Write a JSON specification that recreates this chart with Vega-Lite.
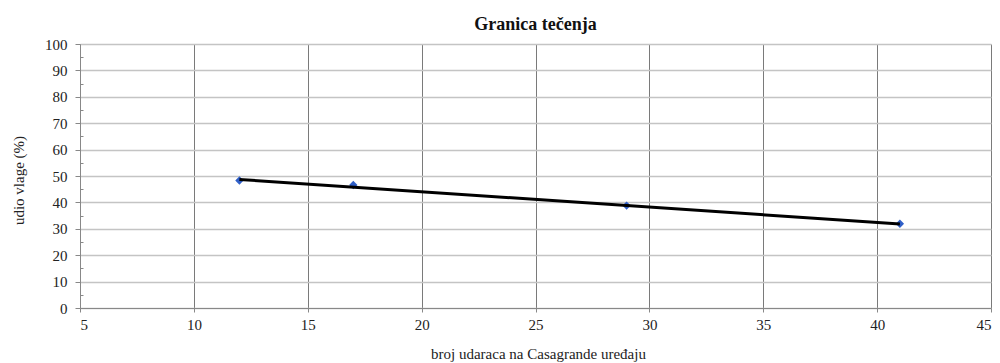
{
  "$schema": "https://vega.github.io/schema/vega-lite/v6.json",
  "width": 911,
  "height": 264,
  "autosize": {"type": "none"},
  "padding": {"left": 80, "top": 44, "right": 9, "bottom": 55},
  "background": "white",
  "config": {
    "font": "Liberation Serif",
    "view": {"stroke": null},
    "style": {
      "guide-label": {"font": "Liberation Serif", "fontSize": 15, "fill": "#222"},
      "guide-title": {"font": "Liberation Serif", "fontSize": 15, "fill": "#222"},
      "group-title": {"font": "Liberation Serif", "fontSize": 18}
    },
    "axis": {"labelFont": "Liberation Serif", "titleFont": "Liberation Serif", "labelFontSize": 15, "titleFontSize": 15, "labelColor": "#222", "titleColor": "#222", "titleFontWeight": "normal", "domainColor": "#888", "tickColor": "#888", "labelOverlap": false}
  },
  "title": {"text": "Granica tečenja", "font": "Liberation Serif", "fontSize": 18, "fontWeight": "bold", "color": "#111", "anchor": "middle", "offset": 3},
  "datasets": {
    "points": [
      {"udarci": 12, "vlaga": 48.3},
      {"udarci": 17, "vlaga": 46.6},
      {"udarci": 29, "vlaga": 38.8},
      {"udarci": 41, "vlaga": 31.9}
    ],
    "trend": [
      {"udarci": 12, "vlaga": 48.7},
      {"udarci": 41, "vlaga": 31.8}
    ]
  },
  "encoding": {
    "x": {"field": "udarci", "type": "quantitative", "scale": {"domain": [5, 45], "nice": false, "zero": false},
      "axis": {"title": "broj udaraca na Casagrande uređaju", "values": [5, 10, 15, 20, 25, 30, 35, 40, 45], "labelFont": "Liberation Serif", "labelFontSize": 15, "labelOverlap": false, "grid": true, "gridColor": "#7a7a7a", "gridWidth": 1, "tickSize": 4, "labelPadding": 5, "titleX": 458, "titleY": 50, "titleBaseline": "alphabetic", "titleAlign": "center"}},
    "y": {"field": "vlaga", "type": "quantitative", "scale": {"domain": [0, 100], "nice": false},
      "axis": {"title": "udio vlage (%)", "values": [0, 5, 10, 15, 20, 25, 30, 35, 40, 45, 50, 55, 60, 65, 70, 75, 80, 85, 90, 95, 100],
        "labelExpr": "datum.value % 10 === 0 ? datum.label : ''",
        "labelFont": "Liberation Serif", "labelFontSize": 15, "labelOverlap": false,
        "grid": true, "gridColor": "#c4c4c4", "gridWidth": 1.5,
        "gridOpacity": {"condition": {"test": "datum.value % 10 === 0", "value": 1}, "value": 0},
        "tickSize": {"condition": {"test": "datum.value % 10 === 0", "value": 5}, "value": -3},
        "labelPadding": 8, "titleX": -62, "titleY": 136, "titleAngle": -90, "titleBaseline": "middle", "titleAlign": "center"}}
  },
  "layer": [
    {
      "data": {"name": "points"},
      "mark": {"type": "point", "shape": "diamond", "filled": true, "size": 70, "color": "#2f5fc8", "opacity": 1}
    },
    {
      "data": {"name": "trend"},
      "mark": {"type": "line", "color": "#000", "strokeWidth": 3}
    }
  ]
}
